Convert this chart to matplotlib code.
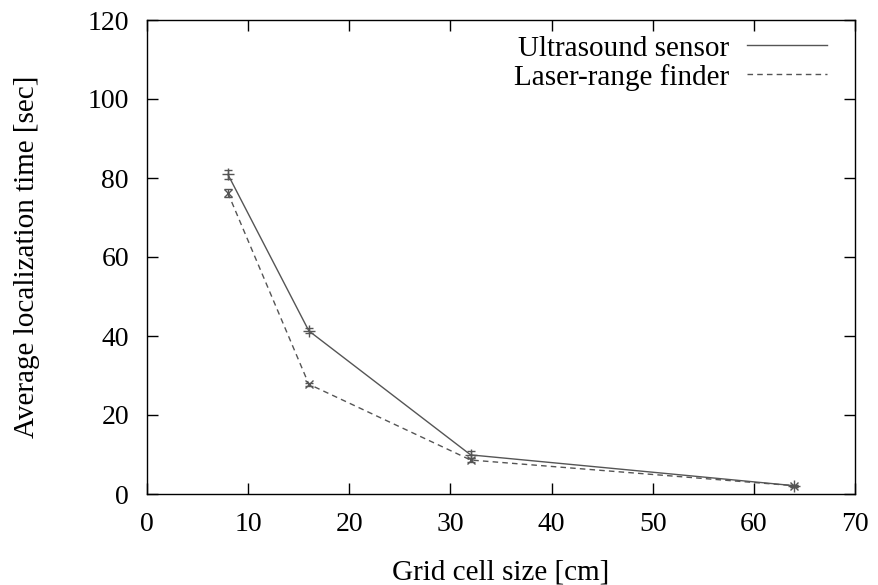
import matplotlib.pyplot as plt
import numpy as np
from matplotlib.lines import Line2D

plt.rcParams['font.family'] = ['Liberation Serif', 'DejaVu Serif']

cell_size = [8, 16, 32, 64]
ultrasound = [80.9, 41.3, 9.9, 2.1]
ultrasound_err = [1.2, 0.6, 0.9, 0.3]
laser = [76.2, 27.8, 8.6, 2.1]
laser_err = [1.0, 0.4, 0.6, 0.3]
labels = ['Ultrasound sensor', 'Laser-range finder']

fig = plt.figure(figsize=(8.79, 5.85), dpi=100)
ax = fig.add_axes([147/879, 1 - 494/585, (855-147)/879, (494-20)/585])

line_col = '#555555'
dash = (0, (4, 3))
ax.errorbar(cell_size, ultrasound, yerr=ultrasound_err, color=line_col, lw=1.0,
            marker='+', ms=8, mew=1.0, capsize=3, elinewidth=1.0, capthick=1.0)
ax.errorbar(cell_size, laser, yerr=laser_err, color=line_col, lw=1.0, ls=dash,
            marker='x', ms=6, mew=1.0, capsize=3, elinewidth=1.0, capthick=1.0)

ax.set_xlim(0, 70)
ax.set_ylim(0, 120)
ax.set_xticks(np.arange(0, 71, 10))
ax.set_yticks(np.arange(0, 121, 20))
ax.tick_params(direction='in', top=True, right=True, length=8, width=1, labelsize=20)
ax.tick_params(axis='y', pad=13)
ax.tick_params(axis='x', pad=13)
for s in ax.spines.values():
    s.set_linewidth(1.0)

ax.set_xlabel('Grid cell size [cm]', fontsize=21, labelpad=16)
ax.set_ylabel('Average localization time [sec]', fontsize=21, labelpad=34)

handles = [Line2D([], [], color=line_col, lw=1.0),
           Line2D([], [], color=line_col, lw=1.0, ls=dash)]
ax.legend(handles, labels, loc='upper right', bbox_to_anchor=(0.9605, 0.968),
          frameon=False, markerfirst=False, fontsize=21, handlelength=2.75,
          handletextpad=0.6, labelspacing=0.07, borderpad=0, borderaxespad=0)

fig.savefig('out.png', dpi=100)
